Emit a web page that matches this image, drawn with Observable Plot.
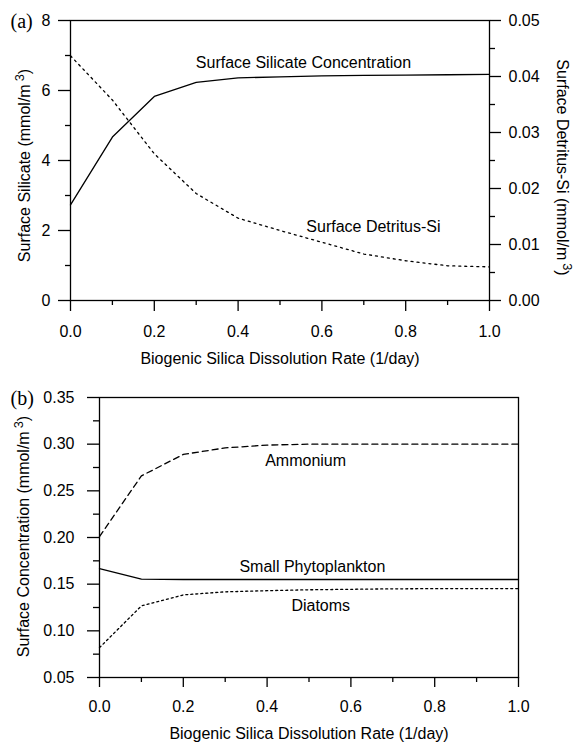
<!DOCTYPE html>
<html>
<head>
<meta charset="utf-8">
<script src="https://cdn.jsdelivr.net/npm/d3@7"></script>
<script src="https://cdn.jsdelivr.net/npm/@observablehq/plot@0.6"></script>
<style>
  body { margin: 0; background: #fff; }
  #chart { width: 575px; }
  #chart svg { display: block; }
</style>
</head>
<body>
<div id="chart"></div>
<script>
// Biogenic silica dissolution rate (1/day), shared by both panels
const rate = [0.0, 0.1, 0.2, 0.3, 0.4, 0.5, 0.6, 0.7, 0.8, 0.9, 1.0];

// Panel (a): surface silicate (mmol/m3, left axis) and detritus-Si (mmol/m3, right axis)
const silicate   = [2.73, 4.67, 5.83, 6.23, 6.36, 6.39, 6.42, 6.43, 6.44, 6.45, 6.46];
const detritusSi = [0.0437, 0.0358, 0.0262, 0.0191, 0.0147, 0.0125, 0.0104, 0.0083, 0.0071, 0.0062, 0.0060];

// Panel (b): surface concentrations (mmol/m3)
const ammonium   = [0.201, 0.266, 0.289, 0.296, 0.299, 0.300, 0.300, 0.300, 0.300, 0.300, 0.300];
const smallPhyto = [0.1667, 0.1553, 0.155, 0.155, 0.155, 0.155, 0.155, 0.155, 0.155, 0.155, 0.155];
const diatoms    = [0.082, 0.1267, 0.1385, 0.1418, 0.1430, 0.1440, 0.1445, 0.1450, 0.1452, 0.1453, 0.1453];

// Tick values
const xMajor = [0, 0.2, 0.4, 0.6, 0.8, 1.0];
const xMinor = [0.1, 0.3, 0.5, 0.7, 0.9];
const siMajor = [0, 2, 4, 6, 8];
const siMinor = [1, 3, 5, 7];
const detMajor = [0, 0.01, 0.02, 0.03, 0.04, 0.05];
const detMinor = [0.005, 0.015, 0.025, 0.035, 0.045];
const concMajor = [0.05, 0.10, 0.15, 0.20, 0.25, 0.30, 0.35];
const concMinor = [0.075, 0.125, 0.175, 0.225, 0.275, 0.325];

// Text
const xTitle = "Biogenic Silica Dissolution Rate (1/day)";
const yTitleA = "Surface Silicate (mmol/m3)";
const y2TitleA = "Surface Detritus-Si (mmol/m3)";
const yTitleB = "Surface Concentration (mmol/m3)";
const seriesLabelsA = ["Surface Silicate Concentration", "Surface Detritus-Si"];
const seriesLabelsB = ["Ammonium", "Small Phytoplankton", "Diatoms"];

const SANS = "'Liberation Sans', Arial, Helvetica, sans-serif";
const SERIF = "'Liberation Serif', 'Times New Roman', serif";
const LW = 1.3;
const FS = 16;

// The detritus series is drawn on the silicate scale; the right axis converts back.
const DET_K = 8 / 0.05;

const rowsA = rate.map((r, i) => ({rate: r, silicate: silicate[i], detritus: detritusSi[i] * DET_K}));
const rowsB = rate.map((r, i) => ({rate: r, ammonium: ammonium[i], small: smallPhyto[i], diatoms: diatoms[i]}));

const fmt1 = d => d.toFixed(1);
const blank = () => "";

const plotA = Plot.plot({
  width: 575, height: 372,
  marginLeft: 70, marginRight: 86, marginTop: 20, marginBottom: 72,
  style: {fontFamily: SANS, fontSize: "16px", color: "#000", background: "#fff"},
  x: {domain: [0, 1]},
  y: {domain: [0, 8]},
  marks: [
    Plot.axisX(xMajor, {tickSize: 11, tickPadding: 14, tickFormat: fmt1, strokeWidth: LW, fontSize: FS, label: null}),
    Plot.axisX(xMinor, {tickSize: 5, tickFormat: blank, strokeWidth: LW, label: null}),
    Plot.axisY(siMajor, {anchor: "left", tickSize: 12, tickPadding: 8, tickFormat: d => String(d), strokeWidth: LW, fontSize: FS, label: null}),
    Plot.axisY(siMinor, {anchor: "left", tickSize: 5, tickFormat: blank, strokeWidth: LW, label: null}),
    Plot.axisY(detMajor.map(d => d * DET_K), {anchor: "right", tickSize: 11, tickPadding: 8, tickFormat: d => (d / DET_K).toFixed(2), strokeWidth: LW, fontSize: FS, label: null}),
    Plot.axisY(detMinor.map(d => d * DET_K), {anchor: "right", tickSize: 5, tickFormat: blank, strokeWidth: LW, label: null}),
    Plot.frame({stroke: "#000", strokeWidth: LW}),
    Plot.line(rowsA, {x: "rate", y: "silicate", stroke: "#000", strokeWidth: LW}),
    Plot.line(rowsA, {x: "rate", y: "detritus", stroke: "#000", strokeWidth: LW, strokeDasharray: "2,4"}),
    Plot.text([seriesLabelsA[0]], {x: 0.556, y: 6.8, fontSize: FS}),
    Plot.text([seriesLabelsA[1]], {x: 0.723, y: 2.1, fontSize: FS}),
    Plot.text([xTitle], {frameAnchor: "bottom", textAnchor: "middle", lineAnchor: "middle", dy: 58, fontSize: FS}),
    Plot.text([yTitleA], {frameAnchor: "left", textAnchor: "middle", lineAnchor: "middle", rotate: -90, dx: -46, dy: 5, fontSize: FS}),
    Plot.text([y2TitleA], {frameAnchor: "right", textAnchor: "middle", lineAnchor: "middle", rotate: 90, dx: 73, dy: 7, fontSize: FS}),
    Plot.text(["(a)"], {frameAnchor: "top-left", textAnchor: "start", lineAnchor: "middle", dx: -60, dy: 1, fontSize: 20, fontFamily: SERIF})
  ]
});

const plotB = Plot.plot({
  width: 575, height: 373,
  marginLeft: 99, marginRight: 57, marginTop: 25, marginBottom: 68,
  style: {fontFamily: SANS, fontSize: "16px", color: "#000", background: "#fff"},
  x: {domain: [0, 1]},
  y: {domain: [0.05, 0.35]},
  marks: [
    Plot.axisX(xMajor, {tickSize: 10, tickPadding: 13, tickFormat: fmt1, strokeWidth: LW, fontSize: FS, label: null}),
    Plot.axisX(xMinor, {tickSize: 5, tickFormat: blank, strokeWidth: LW, label: null}),
    Plot.axisY(concMajor, {anchor: "left", tickSize: 12, tickPadding: 13, tickFormat: d => d.toFixed(2), strokeWidth: LW, fontSize: FS, label: null}),
    Plot.axisY(concMinor, {anchor: "left", tickSize: 6, tickFormat: blank, strokeWidth: LW, label: null}),
    Plot.frame({stroke: "#000", strokeWidth: LW}),
    Plot.line(rowsB, {x: "rate", y: "ammonium", stroke: "#000", strokeWidth: LW, strokeDasharray: "6,4"}),
    Plot.line(rowsB, {x: "rate", y: "small", stroke: "#000", strokeWidth: LW}),
    Plot.line(rowsB, {x: "rate", y: "diatoms", stroke: "#000", strokeWidth: LW, strokeDasharray: "2,3"}),
    Plot.text([seriesLabelsB[0]], {x: 0.492, y: 0.282, fontSize: FS}),
    Plot.text([seriesLabelsB[1]], {x: 0.508, y: 0.169, fontSize: FS}),
    Plot.text([seriesLabelsB[2]], {x: 0.528, y: 0.1268, fontSize: FS}),
    Plot.text([xTitle], {frameAnchor: "bottom", textAnchor: "middle", lineAnchor: "middle", dy: 56, fontSize: FS}),
    Plot.text([yTitleB], {frameAnchor: "left", textAnchor: "middle", lineAnchor: "middle", rotate: -90, dx: -76, dy: -1, fontSize: FS}),
    Plot.text(["(b)"], {frameAnchor: "top-left", textAnchor: "start", lineAnchor: "middle", dx: -89, dy: 1, fontSize: 20, fontFamily: SERIF})
  ]
});

// Render the trailing "3" of the unit as a raised superscript
function superscriptUnits(svg) {
  d3.select(svg).selectAll("text").each(function () {
    const t = this.textContent;
    if (!t.endsWith("m3)") || this.querySelector("tspan")) return;
    const sel = d3.select(this);
    sel.text(null);
    sel.append("tspan").text(t.slice(0, -2));
    sel.append("tspan").attr("dx", 3).attr("dy", "-0.45em").attr("font-size", "0.8em").text("3");
    sel.append("tspan").attr("dy", "0.36em").text(")");
  });
}
superscriptUnits(plotA);
superscriptUnits(plotB);

const chart = document.getElementById("chart");
chart.append(plotA, plotB);
</script>
</body>
</html>
